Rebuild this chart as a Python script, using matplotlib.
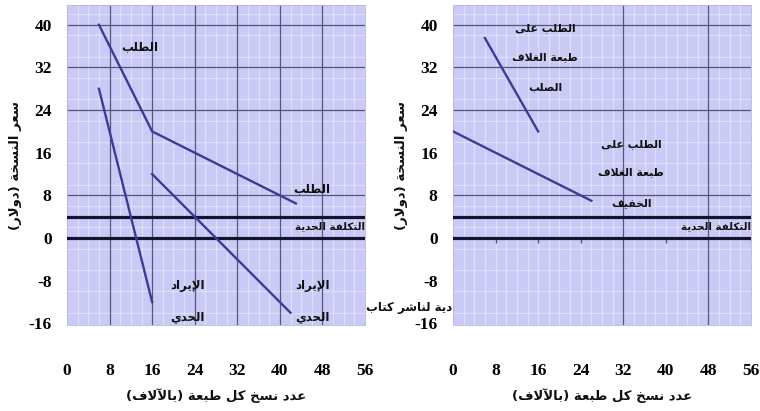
import matplotlib
matplotlib.use("Agg")
import matplotlib.pyplot as plt

plt.rcParams['axes.unicode_minus'] = False

# ---------------- data ----------------
x_ticks = [0, 8, 16, 24, 32, 40, 48, 56]
y_ticks = [-16, -8, 0, 8, 16, 24, 32, 40]
marginal_cost = 4

# left panel: kinked demand and its two marginal-revenue pieces
demand_x = [6, 16, 43]
demand_y = [40, 20, 6.5]
mr1_x = [6, 16]
mr1_y = [28, -12]
mr2_x = [16, 42]
mr2_y = [12, -14]

# right panel: hardcover and paperback demand
hard_x = [6, 16]
hard_y = [37.5, 20]
paper_x = [0, 26]
paper_y = [20, 7]

left_dark_v = [8, 16, 24, 32, 40, 48]
right_dark_v = [32, 48]
dark_h = [8, 24, 32, 40]
right_small_ticks = [8, 16, 24, 40, 56]

# ---------------- Arabic shaping (presentation forms) ----------------
FORMS = {
    'ء': (0xFE80, None, None, None),
    'آ': (0xFE81, 0xFE82, None, None),
    'أ': (0xFE83, 0xFE84, None, None),
    'ؤ': (0xFE85, 0xFE86, None, None),
    'إ': (0xFE87, 0xFE88, None, None),
    'ئ': (0xFE89, 0xFE8A, 0xFE8B, 0xFE8C),
    'ا': (0xFE8D, 0xFE8E, None, None),
    'ب': (0xFE8F, 0xFE90, 0xFE91, 0xFE92),
    'ة': (0xFE93, 0xFE94, None, None),
    'ت': (0xFE95, 0xFE96, 0xFE97, 0xFE98),
    'ث': (0xFE99, 0xFE9A, 0xFE9B, 0xFE9C),
    'ج': (0xFE9D, 0xFE9E, 0xFE9F, 0xFEA0),
    'ح': (0xFEA1, 0xFEA2, 0xFEA3, 0xFEA4),
    'خ': (0xFEA5, 0xFEA6, 0xFEA7, 0xFEA8),
    'د': (0xFEA9, 0xFEAA, None, None),
    'ذ': (0xFEAB, 0xFEAC, None, None),
    'ر': (0xFEAD, 0xFEAE, None, None),
    'ز': (0xFEAF, 0xFEB0, None, None),
    'س': (0xFEB1, 0xFEB2, 0xFEB3, 0xFEB4),
    'ش': (0xFEB5, 0xFEB6, 0xFEB7, 0xFEB8),
    'ص': (0xFEB9, 0xFEBA, 0xFEBB, 0xFEBC),
    'ض': (0xFEBD, 0xFEBE, 0xFEBF, 0xFEC0),
    'ط': (0xFEC1, 0xFEC2, 0xFEC3, 0xFEC4),
    'ظ': (0xFEC5, 0xFEC6, 0xFEC7, 0xFEC8),
    'ع': (0xFEC9, 0xFECA, 0xFECB, 0xFECC),
    'غ': (0xFECD, 0xFECE, 0xFECF, 0xFED0),
    'ف': (0xFED1, 0xFED2, 0xFED3, 0xFED4),
    'ق': (0xFED5, 0xFED6, 0xFED7, 0xFED8),
    'ك': (0xFED9, 0xFEDA, 0xFEDB, 0xFEDC),
    'ل': (0xFEDD, 0xFEDE, 0xFEDF, 0xFEE0),
    'م': (0xFEE1, 0xFEE2, 0xFEE3, 0xFEE4),
    'ن': (0xFEE5, 0xFEE6, 0xFEE7, 0xFEE8),
    'ه': (0xFEE9, 0xFEEA, 0xFEEB, 0xFEEC),
    'و': (0xFEED, 0xFEEE, None, None),
    'ى': (0xFEEF, 0xFEF0, None, None),
    'ي': (0xFEF1, 0xFEF2, 0xFEF3, 0xFEF4),
}
LAM_ALEF = {'آ': (0xFEF5, 0xFEF6), 'أ': (0xFEF7, 0xFEF8),
            'إ': (0xFEF9, 0xFEFA), 'ا': (0xFEFB, 0xFEFC)}


def dual(c):
    return c in FORMS and FORMS[c][2] is not None


def ar(s):
    out = []
    i, n = 0, len(s)
    while i < n:
        c = s[i]
        if c not in FORMS:
            out.append(c)
            i += 1
            continue
        prev = s[i - 1] if i > 0 else None
        cp = dual(prev)
        if c == 'ل' and i + 1 < n and s[i + 1] in LAM_ALEF:
            out.append(chr(LAM_ALEF[s[i + 1]][1 if cp else 0]))
            i += 2
            continue
        nxt = s[i + 1] if i + 1 < n else None
        cn = dual(c) and nxt in FORMS
        f = FORMS[c]
        if cp and cn:
            g = f[3]
        elif cp:
            g = f[1]
        elif cn:
            g = f[2]
        else:
            g = f[0]
        out.append(chr(g))
        i += 1
    vis = ''.join(reversed(out))
    return vis.translate(str.maketrans('()', ')('))


AR = dict(family=['DejaVu Sans'], fontweight='bold', color='#111111')

# ---------------- figure ----------------
BG = '#cacaf6'
LINE = '#3c3c98'
DARK = '#141430'
GRID = '#55557a'

fig = plt.figure(figsize=(7.6, 4.11), dpi=100)
axL = fig.add_axes([67 / 760, 86 / 411, 298 / 760, 320 / 411])
axR = fig.add_axes([453 / 760, 86 / 411, 298 / 760, 320 / 411])

for ax in (axL, axR):
    ax.set_facecolor(BG)
    ax.set_xlim(0, 56)
    ax.set_ylim(-16.3, 43.7)
    ax.set_xticks(x_ticks)
    ax.set_yticks(y_ticks)
    ax.tick_params(length=0, labelsize=12.5)
    ax.tick_params(axis='x', pad=27)
    ax.tick_params(axis='y', pad=11)
    for lab in ax.get_xticklabels() + ax.get_yticklabels():
        lab.set_fontfamily('Liberation Serif')
        lab.set_fontweight('bold')
    for sp in ax.spines.values():
        sp.set_color('#b8b8d8')
        sp.set_linewidth(0.6)
    # light minor grid
    for v in range(2, 56, 2):
        ax.axvline(v, color='white', lw=0.8, alpha=0.4, zorder=1)
    for h in range(-14, 44, 4):
        ax.axhline(h, color='white', lw=0.8, alpha=0.4, zorder=1)
    for h in dark_h:
        ax.axhline(h, color=GRID, lw=0.9, zorder=2)
    ax.axhline(marginal_cost, color=DARK, lw=2.3, zorder=3)
    ax.axhline(0, color=DARK, lw=2.3, zorder=3)
    ax.set_ylabel(ar('سعر النسخة (دولار)'), fontsize=9.5, labelpad=5, **AR)
    ax.set_xlabel(ar('عدد نسخ كل طبعة (بالآلاف)'), fontsize=9.5, labelpad=7, **AR)
    ax.text(56, 2.2, ar('التكلفة الحدية'), ha='right', va='center', fontsize=7.5, zorder=5, **AR)

for v in left_dark_v:
    axL.axvline(v, color=GRID, lw=0.9, zorder=2)
for v in right_dark_v:
    axR.axvline(v, color=GRID, lw=0.9, zorder=2)
axR.vlines(right_small_ticks, -0.9, 0, color=GRID, lw=0.9, zorder=2)

# left panel curves
axL.plot(demand_x, demand_y, color=LINE, lw=1.7, zorder=4)
axL.plot(mr1_x, mr1_y, color=LINE, lw=1.7, zorder=4)
axL.plot(mr2_x, mr2_y, color=LINE, lw=1.7, zorder=4)

axL.text(13.7, 36.0, ar('الطلب'), ha='center', va='center', fontsize=8.5, **AR)
axL.text(46.0, 9.2, ar('الطلب'), ha='center', va='center', fontsize=8.5, **AR)
for xc in (22.7, 46.2):
    axL.text(xc, -8.8, ar('الإيراد'), ha='center', va='center', fontsize=8.5, **AR)
    axL.text(xc, -14.8, ar('الحدي'), ha='center', va='center', fontsize=8.5, **AR)

# right panel curves
axR.plot(hard_x, hard_y, color=LINE, lw=1.7, zorder=4)
axR.plot(paper_x, paper_y, color=LINE, lw=1.7, zorder=4)

for yy, t in zip((39.4, 34.0, 28.3), ('الطلب على', 'طبعة الغلاف', 'الصلب')):
    axR.text(17.3, yy, ar(t), ha='center', va='center', fontsize=7.8, **AR)
for yy, t in zip((17.6, 12.3, 6.5), ('الطلب على', 'طبعة الغلاف', 'الخفيف')):
    axR.text(33.5, yy, ar(t), ha='center', va='center', fontsize=7.8, **AR)

# partially hidden caption between the panels
fig.text(409 / 760, 1 - 308 / 411, ar('دية لناشر كتاب'), ha='center', va='center',
         fontsize=8.5, **AR)

fig.savefig('out.png', dpi=100)
